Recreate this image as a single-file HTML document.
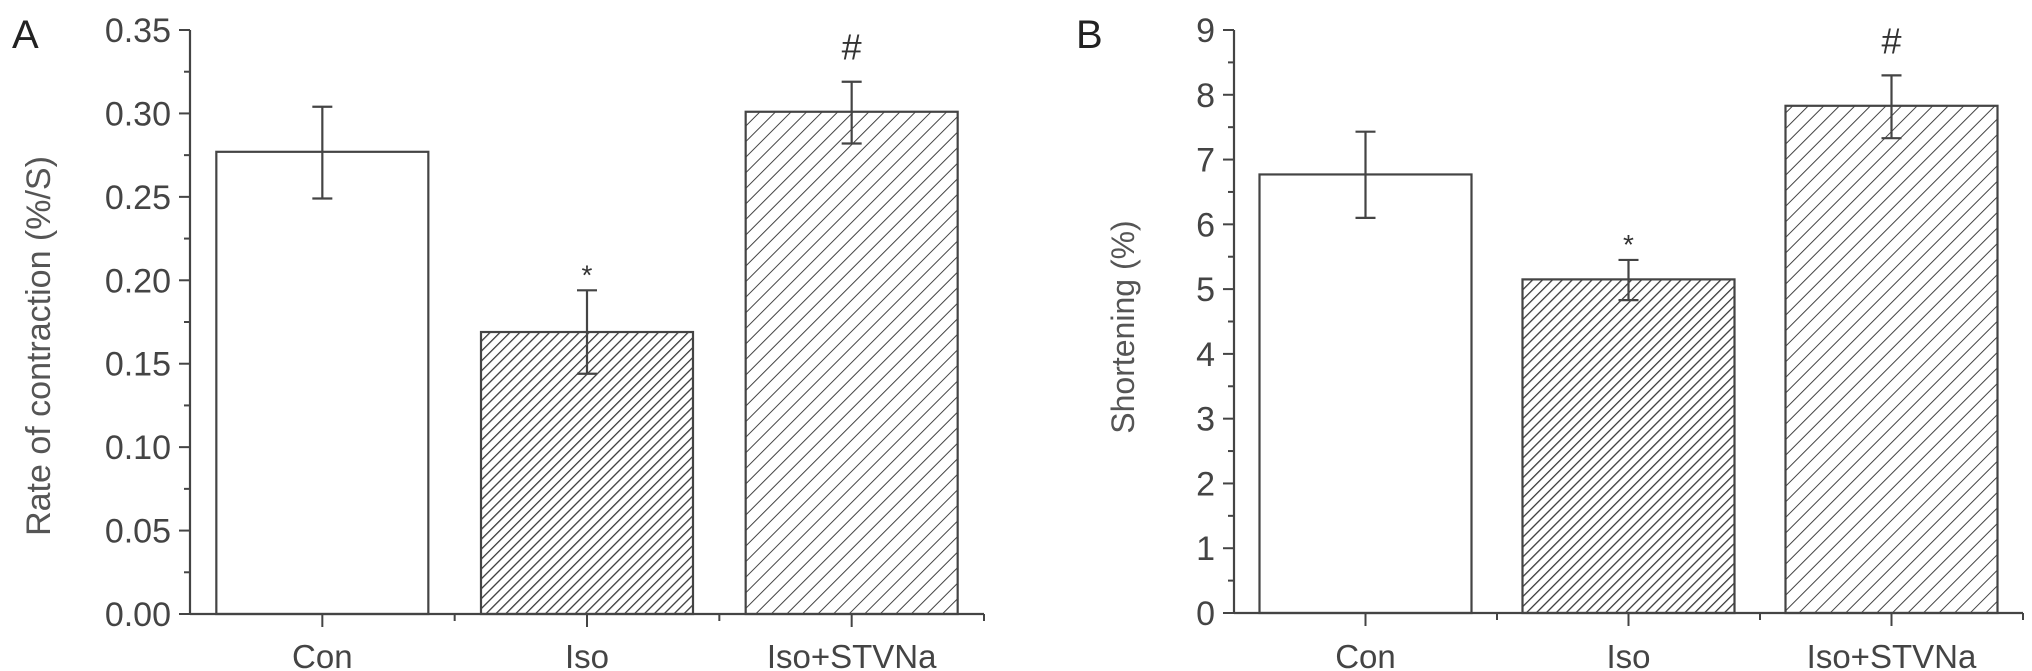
<!DOCTYPE html>
<html><head><meta charset="utf-8">
<style>
html,body{margin:0;padding:0;background:#fff;}
svg{display:block;font-family:"Liberation Sans Narrow","Liberation Sans",sans-serif;}
</style></head>
<body>
<svg id="fig" width="2032" height="671" viewBox="0 0 2032 671" xmlns="http://www.w3.org/2000/svg">
<defs>
<pattern id="hatchDense" patternUnits="userSpaceOnUse" width="7" height="7" patternTransform="rotate(45)">
<rect width="7" height="7" fill="#fff"/><line x1="0" y1="0" x2="0" y2="7" stroke="#3a3a3a" stroke-width="2.6"/>
</pattern>
<pattern id="hatchWide" patternUnits="userSpaceOnUse" width="11" height="11" patternTransform="rotate(45)">
<rect width="11" height="11" fill="#fff"/><line x1="0" y1="0" x2="0" y2="11" stroke="#444" stroke-width="2"/>
</pattern>
</defs>
</svg>
<script>
const categories = ["Con", "Iso", "Iso+STVNa"];
const fills = ["#fff", "url(#hatchDense)", "url(#hatchWide)"];
const valuesA = [0.277, 0.169, 0.301];
const errLowA = [0.249, 0.144, 0.282];
const errHighA = [0.304, 0.194, 0.319];
const marksA = ["", "*", "#"];
const ticksA = ["0.00","0.05","0.10","0.15","0.20","0.25","0.30","0.35"];
const valuesB = [6.77, 5.15, 7.83];
const errLowB = [6.10, 4.83, 7.33];
const errHighB = [7.43, 5.45, 8.30];
const marksB = ["", "*", "#"];
const ticksB = ["0","1","2","3","4","5","6","7","8","9"];

const NS = "http://www.w3.org/2000/svg";
const svg = document.getElementById("fig");
function mk(tag, attrs, parent, text){
  const e = document.createElementNS(NS, tag);
  for (const k in attrs) e.setAttribute(k, attrs[k]);
  if (text !== undefined) e.textContent = text;
  (parent || svg).appendChild(e);
  return e;
}
function panel(cfg){
  const g = mk("g", {});
  
  
  const y = v => cfg.y0 - (v - 0) / cfg.max * (cfg.y0 - cfg.yTop);
  const bw = (cfg.xEnd - cfg.ax) / 3;
  const xc = i => cfg.ax + bw * (i + 0.5);
  const col = "#444";
  cfg.values.forEach((v, i) => {
    const r = mk("rect", {x: xc(i) - cfg.barW/2, y: y(v), width: cfg.barW, height: cfg.y0 - y(v), fill: fills[i], stroke: col, "stroke-width": 2.2}, g);
    
    
    const e = mk("g", {stroke: col, "stroke-width": 2.2}, g);
    
    
    mk("line", {x1: xc(i), x2: xc(i), y1: y(cfg.lo[i]), y2: y(cfg.hi[i])}, e);
    mk("line", {x1: xc(i)-10, x2: xc(i)+10, y1: y(cfg.lo[i]), y2: y(cfg.lo[i])}, e);
    mk("line", {x1: xc(i)-10, x2: xc(i)+10, y1: y(cfg.hi[i]), y2: y(cfg.hi[i])}, e);
    if (cfg.marks[i]) {
      const isStar = cfg.marks[i] === "*";
      const t = mk("text", {x: xc(i), y: y(cfg.hi[i]) - (isStar ? 6 : 22), "text-anchor": "middle", "font-size": isStar ? 28 : 36, fill: "#333"}, g, cfg.marks[i]);
      
      
    }
    const lab = mk("text", {x: xc(i), y: 668, "text-anchor": "middle", "font-size": 33, fill: "#444"}, g, categories[i]);
    
    
  });
  const ya = mk("line", {x1: cfg.ax, x2: cfg.ax, y1: cfg.yTop, y2: cfg.y0, stroke: col, "stroke-width": 2.2}, g);
  
  
  const xa = mk("line", {x1: cfg.ax, x2: cfg.xEnd, y1: cfg.y0, y2: cfg.y0, stroke: col, "stroke-width": 2.2}, g);
  
  
  for (let i = 0; i < 3; i++) mk("line", {x1: xc(i), x2: xc(i), y1: cfg.y0, y2: cfg.y0 + 13, stroke: col, "stroke-width": 2}, g);
  for (let i = 1; i <= 3; i++) mk("line", {x1: cfg.ax + bw*i, x2: cfg.ax + bw*i, y1: cfg.y0, y2: cfg.y0 + 7, stroke: col, "stroke-width": 2}, g);
  const step = cfg.max / (cfg.ticks.length - 1);
  cfg.ticks.forEach((t, i) => {
    const v = i * step;
    mk("line", {x1: cfg.ax - 11, x2: cfg.ax, y1: y(v), y2: y(v), stroke: col, "stroke-width": 2}, g);
    if (i < cfg.ticks.length - 1) mk("line", {x1: cfg.ax - 6, x2: cfg.ax, y1: y(v + step/2), y2: y(v + step/2), stroke: col, "stroke-width": 2}, g);
    const tl = mk("text", {x: cfg.ax - 19, y: y(v) + 12, "text-anchor": "end", "font-size": 34, fill: "#444"}, g, t);
    
    
  });
  const yt = mk("text", {x: 0, y: 0, transform: `translate(${cfg.titleX},${cfg.titleY}) rotate(-90)`, "text-anchor": "middle", "font-size": cfg.titleSize, fill: "#555", "font-family": "Liberation Sans, sans-serif"}, g, cfg.title);
  
  
  const pl = mk("text", {x: cfg.letterX, y: 48, "font-size": 40, fill: "#222", "font-family": "Liberation Sans, sans-serif"}, g, cfg.letter);
  
  
}
panel({name: "panel-a-rate-of-contraction", ax: 190, xEnd: 984, yTop: 30, y0: 614, max: 0.35, barW: 212,
  values: valuesA, lo: errLowA, hi: errHighA, marks: marksA, ticks: ticksA,
  title: "Rate of contraction (%/S)", titleSize: 34, titleX: 50, titleY: 346, letter: "A", letterX: 12});
panel({name: "panel-b-shortening", ax: 1234, xEnd: 2023, yTop: 30, y0: 613, max: 9, barW: 212,
  values: valuesB, lo: errLowB, hi: errHighB, marks: marksB, ticks: ticksB,
  title: "Shortening (%)", titleSize: 32, titleX: 1134, titleY: 327, letter: "B", letterX: 1076});
</script>
</body></html>
